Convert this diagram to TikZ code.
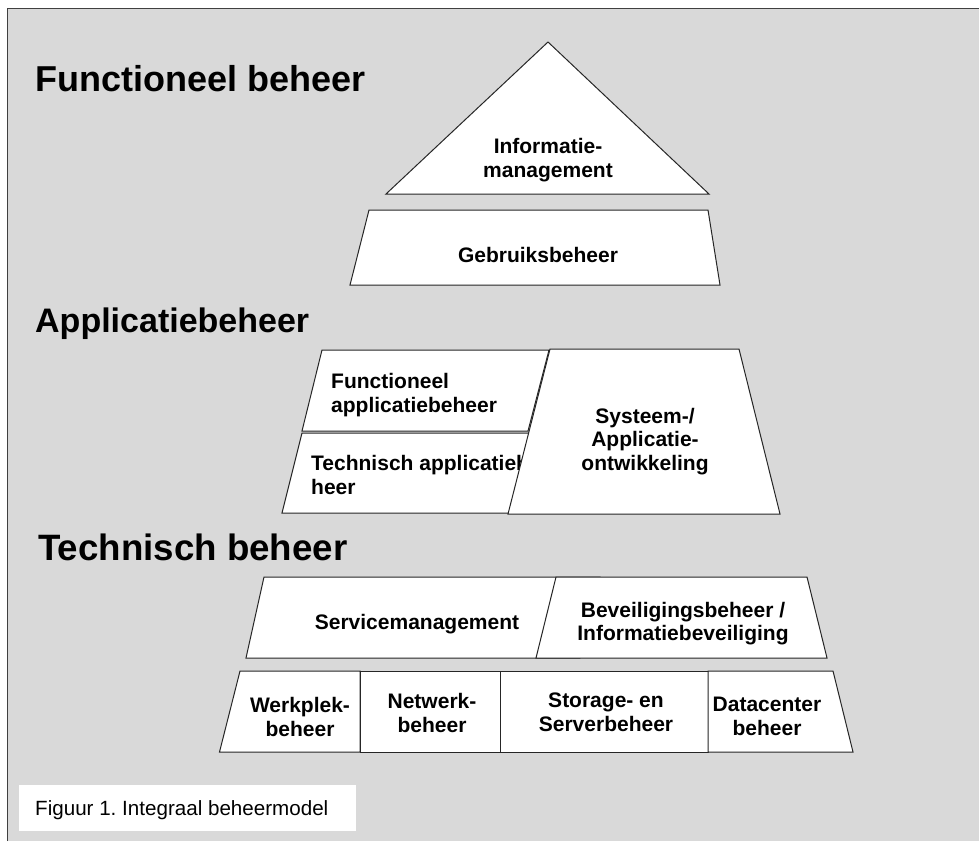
\documentclass[tikz,border=0pt]{standalone}
\usepackage{fontspec}
\setmainfont{Liberation Sans}
\frenchspacing
\definecolor{bggray}{HTML}{D9D9D9}
\definecolor{framegray}{HTML}{404040}
\definecolor{edge}{HTML}{262626}
\begin{document}
\begin{tikzpicture}[x=1pt,y=-1pt,
  box/.style={draw=edge,line width=1pt,fill=white,line join=miter},
  lbl/.style={font=\bfseries\fontsize{21}{24}\selectfont,inner sep=0pt,align=center},
  lbll/.style={font=\bfseries\fontsize{21}{24}\selectfont,inner sep=0pt,align=left,anchor=north west},
  head/.style={font=\bfseries\fontsize{36}{40}\selectfont,inner sep=0pt,anchor=base west}]
\useasboundingbox (0,0) rectangle (979,841);
\fill[white] (0,0) rectangle (979,841);
\fill[bggray] (7.3,8.5) rectangle (979,841);
\draw[line width=1.5pt,draw=framegray] (7.3,841) -- (7.3,8.5) -- (979,8.5);

% headings
\node[head] (hfb) at (35,91) {Functioneel beheer};
\node[head,font=\bfseries\fontsize{34}{40}\selectfont] (hab) at (35,332) {Applicatiebeheer};
\node[head,font=\bfseries\fontsize{36.7}{40}\selectfont] (htb) at (38,560) {Technisch beheer};

% Functioneel beheer
\draw[box] (548,42) -- (709,194) -- (386,194) -- cycle;
\node[lbl,anchor=north] (im) at (548,137.7) {Informatie-\\management};
\draw[box] (369,210) -- (708,210) -- (720,285) -- (350,285) -- cycle;
\node[lbl,anchor=base] (gb) at (538,262) {Gebruiksbeheer};

% Applicatiebeheer
\draw[box] (322,350) -- (549,350) -- (528,431) -- (302,431) -- cycle;
\node[lbll] (fab) at (331,372.7) {Functioneel\\applicatiebeheer};
\draw[box] (302,433) -- (600,433) -- (580,513) -- (282,513) -- cycle;
\node[lbll] (tab) at (311,454.7) {Technisch applicatiebe\\heer};
\draw[box] (550,349) -- (739,349) -- (780,514) -- (508,514) -- cycle;
\node[lbl,anchor=north,font=\bfseries\fontsize{21}{23.5}\selectfont] (sao) at (645,407.7) {Systeem-/\\Applicatie-\\ontwikkeling};

% Technisch beheer
\draw[box] (264,577) -- (600,577) -- (580,658) -- (246,658) -- cycle;
\node[lbl,anchor=base] (sm) at (417,629) {Servicemanagement};
\draw[box] (556,577) -- (807,577) -- (827,658) -- (536,658) -- cycle;
\node[lbl,anchor=north,font=\bfseries\fontsize{21}{23.5}\selectfont] (bb) at (683,601.7) {Beveiligingsbeheer /\\Informatiebeveiliging};

\draw[box] (240,671) -- (360,671) -- (360,752) -- (219.5,752) -- cycle;
\node[lbl,anchor=north] (wb) at (300,696.7) {Werkplek-\\beheer};
\draw[box] (360,671) rectangle (500,752);
\node[lbl,anchor=north] (nb) at (432,692.7) {Netwerk-\\beheer};
\draw[box] (500,671) rectangle (708,752);
\node[lbl,anchor=north] (ssb) at (606,692.7) {Storage- en\\Serverbeheer};
\draw[box] (708,671) -- (833,671) -- (853,752) -- (708,752) -- cycle;
\node[lbl,anchor=north] (db) at (767,696.7) {Datacenter\\beheer};

% caption
\fill[white] (19,785) rectangle (356,831);
\node[font=\fontsize{20.6}{24}\selectfont,inner sep=0pt,anchor=base west] (cap) at (35,815) {Figuur 1. Integraal beheermodel};
\end{tikzpicture}
\end{document}
